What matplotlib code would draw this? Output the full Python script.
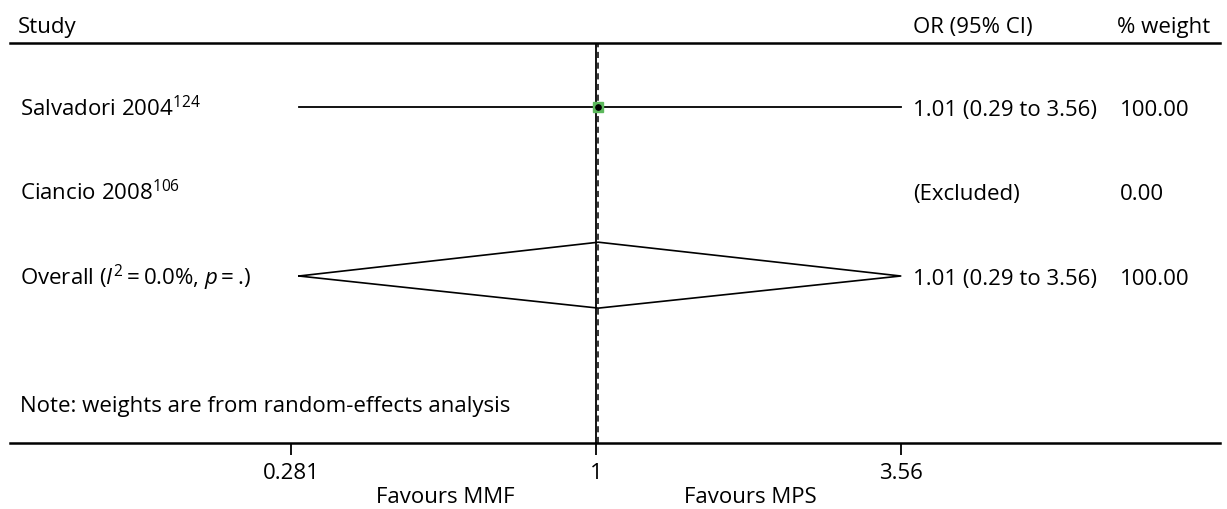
import numpy as np
import matplotlib
matplotlib.use('Agg')
import matplotlib.pyplot as plt

plt.rcParams['font.family'] = ['Open Sans', 'DejaVu Sans']
plt.rcParams['mathtext.fontset'] = 'custom'
plt.rcParams['mathtext.rm'] = 'Open Sans'
plt.rcParams['mathtext.it'] = 'Open Sans:italic'

# data
studies  = ['Salvadori 2004$^{124}$', 'Ciancio 2008$^{106}$']
or_est   = [1.01, np.nan]
ci_low   = [0.29, np.nan]
ci_high  = [3.56, np.nan]
or_text  = ['1.01 (0.29 to 3.56)', '(Excluded)']
weights  = ['100.00', '0.00']
overall_label = 'Overall ($I^2$\u2009=\u20090.0%, $p$\u2009=\u2009.)'
overall_est, overall_low, overall_high = 1.01, 0.29, 3.56
overall_text, overall_weight = '1.01 (0.29 to 3.56)', '100.00'
xticks = [0.281, 1, 3.56]
xticklabels = ['0.281', '1', '3.56']
note = 'Note: weights are from random-effects analysis'

W, H = 1227, 510
fig = plt.figure(figsize=(W/100, H/100), dpi=100)
ax = fig.add_axes([10/W, (H-444)/H, 1210/W, 400/H])
ax.set_xscale('log')
# 240 px per natural-log unit, OR=1 at x=596
px = lambda p: np.exp((p - 596) / 240)
ax.set_xlim(px(10), px(1220))
ax.set_ylim(4.976, 0.243)

fs = 16
off = 0.094   # baseline offset so the cap height is centred on the row
for s in ['left', 'right']:
    ax.spines[s].set_visible(False)
for s in ['top', 'bottom']:
    ax.spines[s].set_linewidth(1.8)
ax.set_yticks([])
ax.set_xticks(xticks)
ax.set_xticklabels(xticklabels, fontsize=fs)
ax.xaxis.set_minor_locator(plt.NullLocator())
ax.tick_params(axis='x', direction='out', length=8.5, width=1.3, pad=5)

# reference lines
ax.axvline(1, color='black', lw=1.3, zorder=1)
ax.axvline(overall_est, color='black', lw=1.1, ls=(0, (4, 3)), zorder=1)

xt, xor, xw = px(20), px(913), px(1120)

for i, name in enumerate(studies):
    y = i + 1
    ax.text(xt, y + off, name, fontsize=fs, va='baseline', ha='left')
    ax.text(xor, y + off, or_text[i], fontsize=fs, va='baseline', ha='left')
    ax.text(xw, y + off, weights[i], fontsize=fs, va='baseline', ha='left')
    if not np.isnan(or_est[i]):
        ax.plot([ci_low[i], ci_high[i]], [y, y], color='black', lw=1.3, zorder=2)
        ax.plot(or_est[i], y, marker='s', ms=7.5, color='#5cb85c', mec='#5cb85c', zorder=3)
        ax.plot(or_est[i], y, marker='o', ms=3.8, color='black', zorder=4)

yo = 3
ax.text(xt, yo + off, overall_label, fontsize=fs, va='baseline', ha='left')
ax.text(xor, yo + off, overall_text, fontsize=fs, va='baseline', ha='left')
ax.text(xw, yo + off, overall_weight, fontsize=fs, va='baseline', ha='left')
ax.plot([overall_low, overall_est, overall_high, overall_est, overall_low],
        [yo, yo - 0.40, yo, yo + 0.38, yo], color='black', lw=1.2, zorder=2)

ax.text(xt, 4.5 + off, note, fontsize=fs, va='baseline', ha='left')

fig.text(18/W, 1 - 33/H, 'Study', fontsize=fs, va='baseline', ha='left')
fig.text(913/W, 1 - 33/H, 'OR (95% CI)', fontsize=fs, va='baseline', ha='left')
fig.text(1117/W, 1 - 33/H, '% weight', fontsize=fs, va='baseline', ha='left')

fig.text(445/W, 1 - 503/H, 'Favours MMF', fontsize=fs, va='baseline', ha='center')
fig.text(750/W, 1 - 503/H, 'Favours MPS', fontsize=fs, va='baseline', ha='center')

fig.savefig('out.png', dpi=100)
